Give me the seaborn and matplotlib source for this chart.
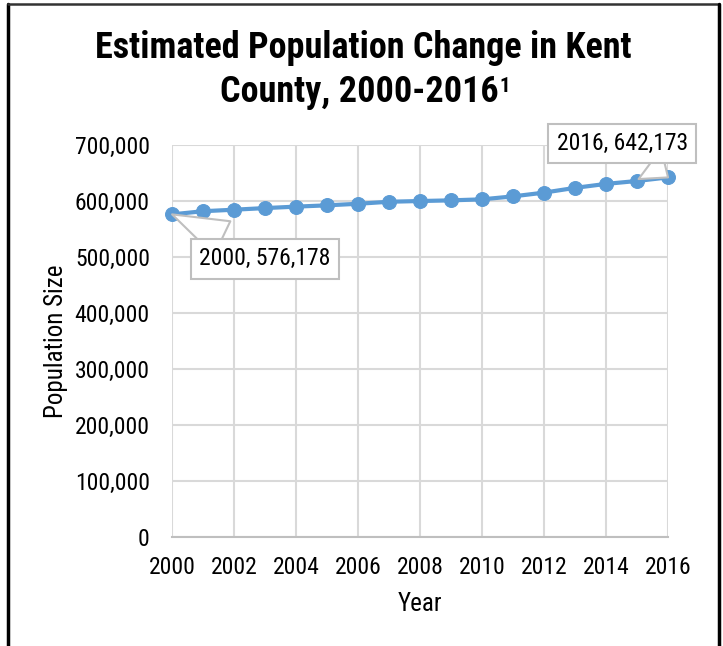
import numpy as np
import pandas as pd
import matplotlib
matplotlib.use('Agg')
import matplotlib.pyplot as plt
import matplotlib.ticker as mticker
import seaborn as sns

# data
years = [2000, 2001, 2002, 2003, 2004, 2005, 2006, 2007, 2008,
         2009, 2010, 2011, 2012, 2013, 2014, 2015, 2016]
population = [576178, 581800, 584500, 587400, 590000, 592300, 595100, 598700, 600000,
              601200, 603000, 608300, 615000, 623500, 630600, 635800, 642173]
x_ticks = [2000, 2002, 2004, 2006, 2008, 2010, 2012, 2014, 2016]
y_ticks = [0, 100000, 200000, 300000, 400000, 500000, 600000, 700000]

BLUE = '#5b9bd5'
GRID = '#d9d9d9'

sns.set_style('white')
plt.rcParams['font.family'] = ['Roboto Condensed', 'DejaVu Sans']
plt.rcParams['text.color'] = 'black'
plt.rcParams['axes.labelcolor'] = 'black'

df = pd.DataFrame({'Year': years, 'Population': population})

fig = plt.figure(figsize=(7.23, 6.46), dpi=100)
ax = fig.add_axes([0.238, 0.1687, 0.686, 0.6068])

sns.lineplot(data=df, x='Year', y='Population', ax=ax, color=BLUE, linewidth=3,
             marker='o', markersize=10, markeredgecolor=BLUE, clip_on=False, zorder=3)

ax.set_xlim(2000, 2016)
ax.set_ylim(0, 700000)
ax.set_xticks(x_ticks)
ax.set_yticks(y_ticks)
ax.yaxis.set_major_formatter(mticker.FuncFormatter(lambda v, p: f'{v:,.0f}'))
ax.grid(True, color=GRID, linewidth=1.5)
ax.set_axisbelow(True)
for s in ['top', 'right', 'left']:
    ax.spines[s].set_visible(False)
ax.spines['bottom'].set_color('#bfbfbf')
ax.spines['bottom'].set_linewidth(1.5)
ax.tick_params(axis='both', length=0, labelsize=17, colors='black')
ax.tick_params(axis='x', pad=14)
ax.tick_params(axis='y', pad=16)
ax.set_xlabel('Year', fontsize=18, labelpad=9)
ax.set_ylabel('Population Size', fontsize=18, labelpad=5)

# callouts for first and last point
box = dict(boxstyle='square,pad=0.35', fc='white', ec='#bfbfbf', lw=1.5)
arrow = dict(arrowstyle='wedge,tail_width=1.6', fc='white', ec='#bfbfbf', lw=1.5,
             shrinkA=0, shrinkB=0)
ax.annotate(f'{years[0]}, {population[0]:,}', xy=(years[0], population[0]),
            xytext=(67, -32), textcoords='offset points', ha='center', va='center',
            fontsize=17, bbox=box, arrowprops=arrow, zorder=5)
ax.annotate(f'{years[-1]}, {population[-1]:,}', xy=(years[-1], population[-1]),
            xytext=(-33, 24.5), textcoords='offset points', ha='center', va='center',
            fontsize=17, bbox=box, arrowprops=arrow, zorder=5)

# title with superscript footnote mark
fig.text(0.503, 0.925, 'Estimated Population Change in Kent', ha='center', va='center',
         fontsize=26, fontweight='bold')
t2 = fig.text(0.497, 0.857, 'County, 2000-2016', ha='center', va='center',
              fontsize=26, fontweight='bold')
fig.canvas.draw()
bb = t2.get_window_extent().transformed(fig.transFigure.inverted())
fig.text(bb.x1 + 0.001, bb.y1 - 0.004, '1', ha='left', va='top', fontsize=15, fontweight='bold')

# frame round the chart (no bottom edge)
fig.add_artist(plt.Line2D([0.011, 0.011], [0, 0.994], color='black', lw=2.5, transform=fig.transFigure))
fig.add_artist(plt.Line2D([0.011, 0.995], [0.994, 0.994], color='#333333', lw=1.8, transform=fig.transFigure))
fig.add_artist(plt.Line2D([0.995, 0.995], [0, 0.994], color='black', lw=2.5, transform=fig.transFigure))

fig.savefig('out.png', dpi=100)
